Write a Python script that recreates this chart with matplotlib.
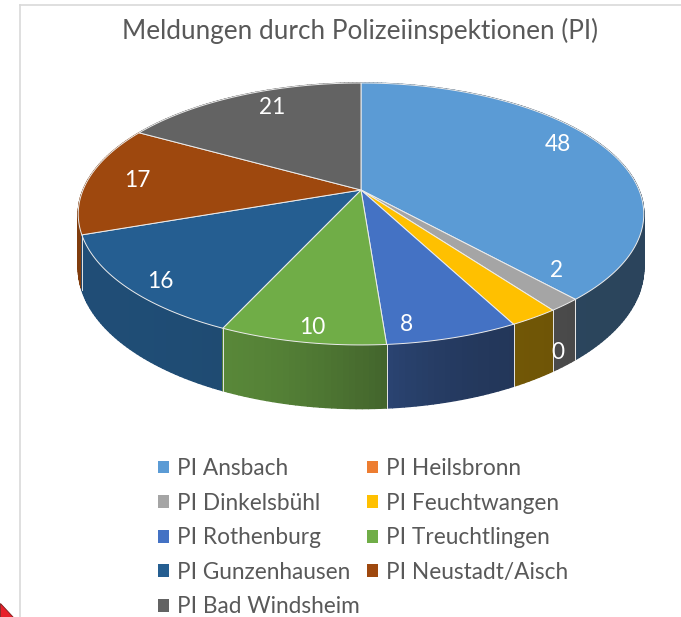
import numpy as np
import matplotlib.pyplot as plt
from matplotlib.patches import Polygon, Patch
from matplotlib.collections import PolyCollection
from matplotlib.colors import to_rgb

plt.rcParams['font.family'] = ['Lato', 'DejaVu Sans']

# Daten
stationen = ['PI Ansbach', 'PI Heilsbronn', 'PI Dinkelsbühl', 'PI Feuchtwangen',
             'PI Rothenburg', 'PI Treuchtlingen', 'PI Gunzenhausen',
             'PI Neustadt/Aisch', 'PI Bad Windsheim']
meldungen = [48, 0, 2, 3, 8, 10, 16, 17, 21]
beschriftung = ['48', '0', '2', '', '8', '10', '16', '17', '21']
farben = ['#5B9BD5', '#ED7D31', '#A5A5A5', '#FFC000', '#4472C4',
          '#70AD47', '#255E91', '#9E480E', '#636363']
titel = 'Meldungen durch Polizeiinspektionen (PI)'

# Geometrie (Pixel)
W, H = 681, 617
CX, CY = 361, 190
RX, RY = 278, 126.6
TIEFE = 52
PERSP = 0.183
TEXTFARBE = '#595959'


def projiziere(theta, r=1.0, z=0.0):
    # theta in Grad, 0 = oben, im Uhrzeigersinn
    u = r * np.sin(np.radians(theta))
    v = -r * np.cos(np.radians(theta))
    s = 1.0 / (1.0 - PERSP * v)
    return CX + RX * u * s, CY + (RY * v + TIEFE * z) * s


fig = plt.figure(figsize=(W / 100, H / 100), dpi=100)
ax = fig.add_axes([0, 0, 1, 1])
ax.set_xlim(0, W)
ax.set_ylim(H, 0)
ax.axis('off')

# Rahmen des Diagrammbereichs
ax.plot([20, 20], [5, H], color='#D9D9D9', lw=1.2)
ax.plot([20, W], [5, 5], color='#D9D9D9', lw=1.2)
ax.add_patch(Polygon([(0, 603), (0, H), (13, H)], closed=True,
                     facecolor='#E8202A', edgecolor='#7A1A1A', lw=0.6))

gesamt = float(sum(meldungen))
winkel = np.concatenate([[0], np.cumsum(meldungen) / gesamt * 360])

# Seitenflaechen
quads, quad_farben, tiefen = [], [], []
for i, wert in enumerate(meldungen):
    if wert == 0:
        continue
    a0, a1 = winkel[i], winkel[i + 1]
    n = max(2, int((a1 - a0) / 1.0))
    stufen = np.linspace(a0, a1, n + 1)
    basis = np.array(to_rgb(farben[i]))
    for j in range(n):
        ta, tb = stufen[j], stufen[j + 1]
        tm = 0.5 * (ta + tb)
        u = np.sin(np.radians(tm))
        schatten = 0.6 - 0.2 * np.tanh(3 * u)
        farbe = basis * schatten + 0.04 * (1 - schatten)
        quads.append([projiziere(ta, z=0), projiziere(tb, z=0),
                      projiziere(tb, z=1), projiziere(ta, z=1)])
        quad_farben.append(np.clip(farbe, 0, 1))
        tiefen.append(-np.cos(np.radians(tm)))

reihenfolge = np.argsort(tiefen)
seiten = PolyCollection([quads[k] for k in reihenfolge],
                        facecolors=[quad_farben[k] for k in reihenfolge],
                        edgecolors=[quad_farben[k] for k in reihenfolge],
                        linewidths=1.0)
ax.add_collection(seiten)

# Trennlinien an den Seiten
for a in winkel:
    if -np.cos(np.radians(a)) > -0.3:
        x0, y0 = projiziere(a, z=0)
        x1, y1 = projiziere(a, z=1)
        ax.plot([x0, x1], [y0, y1], color='#E6E6E6', lw=0.7)

# Deckflaechen
for i, wert in enumerate(meldungen):
    if wert == 0:
        continue
    a0, a1 = winkel[i], winkel[i + 1]
    bogen = np.linspace(a0, a1, max(3, int(a1 - a0) + 2))
    punkte = [(CX, CY)] + [projiziere(a) for a in bogen]
    ax.add_patch(Polygon(punkte, closed=True, facecolor=farben[i],
                         edgecolor='#EDEDED', lw=0.7, joinstyle='round'))

# Datenbeschriftungen (Winkelversatz, Radius, Hoehe)
lage = {0: (-6, 0.85, 0), 1: (2.8, 0.97, 0.85), 2: (-9.1, 0.85, 0),
        4: (7, 0.9, 0), 5: (-1, 0.92, 0), 6: (-2.5, 0.9, 0),
        7: (0, 0.82, 0), 8: (4, 0.82, 0)}
for i, text in enumerate(beschriftung):
    if not text:
        continue
    dw, r, z = lage.get(i, (0, 0.85, 0))
    mitte = 0.5 * (winkel[i] + winkel[i + 1]) + dw
    x, y = projiziere(mitte, r=r, z=z)
    ax.text(x, y, text, color='white', fontsize=16.3, ha='center', va='center')

ax.text(360, 31, titel, ha='center', va='center', fontsize=18.8, color=TEXTFARBE)

# Legende zeilenweise, zwei Spalten
griffe = [Patch(facecolor=c, edgecolor='none') for c in farben]
ordnung = [0, 2, 4, 6, 8, 1, 3, 5, 7]
fig.legend([griffe[k] for k in ordnung], [stationen[k] for k in ordnung],
           ncol=2, loc='upper left', bbox_to_anchor=(158 / W, 1 - 458 / H),
           frameon=False, fontsize=16.3, labelcolor=TEXTFARBE,
           handlelength=0.49, handleheight=0.49, handletextpad=0.35,
           columnspacing=0.32, labelspacing=0.6, borderpad=0, borderaxespad=0)

fig.savefig('out.png', dpi=100)
